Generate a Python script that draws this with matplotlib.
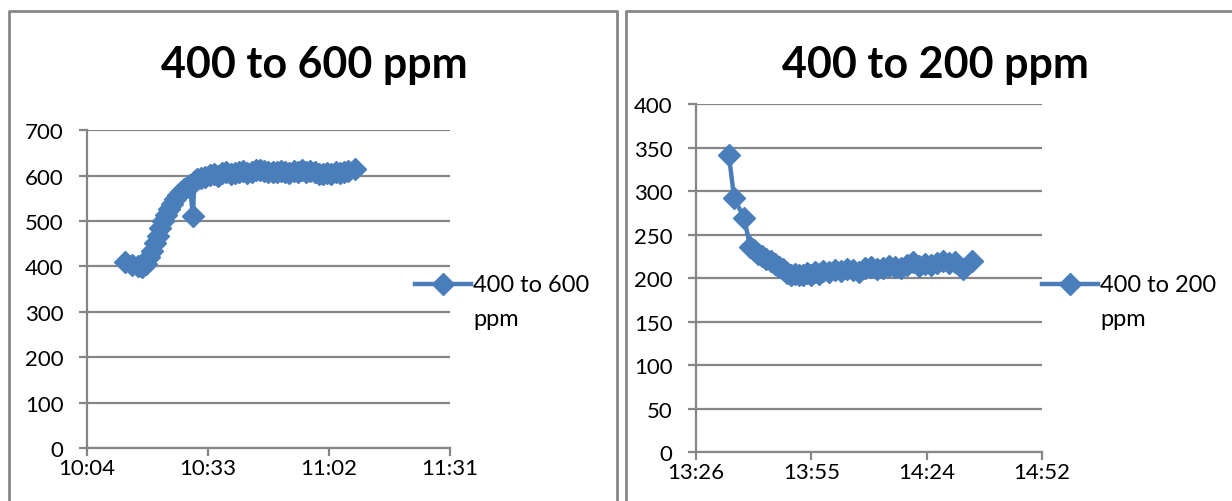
import matplotlib.pyplot as plt
from matplotlib.lines import Line2D

# times are minutes after midnight, values are ppm
t_up = [613.8, 615.5, 617.0, 618.0, 618.8, 619.5, 620.2, 620.9, 621.6, 622.3,
        623.0, 623.7, 624.4, 625.1, 625.8, 626.5, 627.2, 627.9, 628.6, 629.3,
        630.0, 630.4, 631.1, 632.0, 633.0, 634.0, 635.0, 636.0, 637.0, 638.0,
        639.0, 640.0, 641.0, 642.0, 643.0, 644.0, 645.0, 646.0, 647.0, 648.0,
        649.0, 650.0, 651.0, 652.0, 653.0, 654.0, 655.0, 656.0, 657.0, 658.0,
        659.0, 660.0, 661.0, 662.0, 663.0, 664.0, 665.0, 666.0, 667.0, 668.6]
ppm_up = [409, 404, 400, 398, 405, 420, 435, 452, 468, 484,
          500, 514, 527, 538, 548, 557, 564, 570, 576, 580,
          512, 588, 592, 595, 598, 601, 603, 600, 605, 607,
          603, 606, 608, 610, 606, 609, 612, 613, 610, 607,
          609, 607, 610, 608, 606, 610, 609, 612, 608, 611,
          608, 604, 603, 606, 604, 607, 606, 609, 611, 615]

t_down = [814.6, 815.9, 818.4, 819.9, 820.8, 821.8, 822.9, 823.8, 825.0, 826.0,
          827.0, 828.0, 829.0, 830.0, 831.0, 832.0, 833.0, 834.0, 835.0, 836.0,
          837.0, 838.0, 839.5, 841.0, 842.5, 844.0, 845.5, 847.0, 848.5, 850.0,
          851.5, 853.0, 854.5, 856.0, 857.5, 859.0, 860.5, 862.0, 863.5, 865.0,
          866.5, 868.0, 869.5, 871.0, 873.0, 875.3]
ppm_down = [341, 292, 269, 236, 232, 228, 225, 222, 219, 216,
            213, 210, 206, 204, 205, 203, 204, 206, 204, 207,
            205, 208, 207, 209, 208, 210, 209, 207, 211, 213,
            210, 212, 214, 213, 211, 215, 218, 214, 216, 215,
            217, 219, 217, 218, 210, 219]

# Excel style axis ticks (day fractions 0.42..0.48 and 0.56..0.62)
ticks_up = [604.8, 633.6, 662.4, 691.2]
labels_up = ['10:04', '10:33', '11:02', '11:31']
ticks_down = [806.4, 835.2, 864.0, 892.8]
labels_down = ['13:26', '13:55', '14:24', '14:52']

blue = '#4A7EBB'
grey = '#868686'
plt.rcParams['font.family'] = ['Lato', 'DejaVu Sans']

fig = plt.figure(figsize=(12.32, 5.02), dpi=100)


def panel(rect, t, v, yticks, xticks, xlabels, title, name, title_x, leg_x):
    ax = fig.add_axes(rect)
    ax.plot(t, v, color=blue, lw=3.2, marker='D', ms=11, mec=blue, mfc=blue)
    ax.set_xlim(xticks[0], xticks[-1])
    ax.set_ylim(yticks[0], yticks[-1])
    ax.set_yticks(yticks)
    ax.set_xticks(xticks)
    ax.set_xticklabels(xlabels)
    ax.yaxis.grid(True, color=grey, lw=1.6)
    ax.set_axisbelow(True)
    for s in ['top', 'right']:
        ax.spines[s].set_visible(False)
    for s in ['left', 'bottom']:
        ax.spines[s].set_color(grey)
        ax.spines[s].set_linewidth(1.6)
    ax.tick_params(colors=grey, width=1.6, length=6, labelsize=16, labelcolor='black')
    ax.tick_params(axis='y', pad=11)
    ax.tick_params(axis='x', pad=1.5)
    fig.text(title_x, 0.87, title, ha='center', va='center',
             fontsize=31, fontweight='bold')
    # legend entry
    y = 0.432
    fig.add_artist(Line2D([leg_x, leg_x + 0.045], [y, y], color=blue, lw=3.2,
                          transform=fig.transFigure))
    fig.add_artist(Line2D([leg_x + 0.0225], [y], color=blue, marker='D', ms=11,
                          transform=fig.transFigure))
    fig.text(leg_x + 0.047, y, name.split(' ppm')[0], ha='left', va='center', fontsize=17)
    fig.text(leg_x + 0.047, y - 0.068, 'ppm', ha='left', va='center', fontsize=17)
    return ax


panel([0.0706, 0.1056, 0.2946, 0.633], t_up, ppm_up, list(range(0, 701, 100)),
      ticks_up, labels_up, '400 to 600 ppm', '400 to 600 ppm', 0.255, 0.337)
panel([0.565, 0.0976, 0.2808, 0.6932], t_down, ppm_down, list(range(0, 401, 50)),
      ticks_down, labels_down, '400 to 200 ppm', '400 to 200 ppm', 0.759, 0.846)

# chart area borders
for xs, ys in [([0.0073, 0.0073, 0.501, 0.501], [0, 0.976, 0.976, 0]),
               ([0.508, 0.508, 1.0], [0, 0.976, 0.976])]:
    fig.add_artist(Line2D(xs, ys, color=grey, lw=2, transform=fig.transFigure))

fig.savefig('out.png', dpi=100)
